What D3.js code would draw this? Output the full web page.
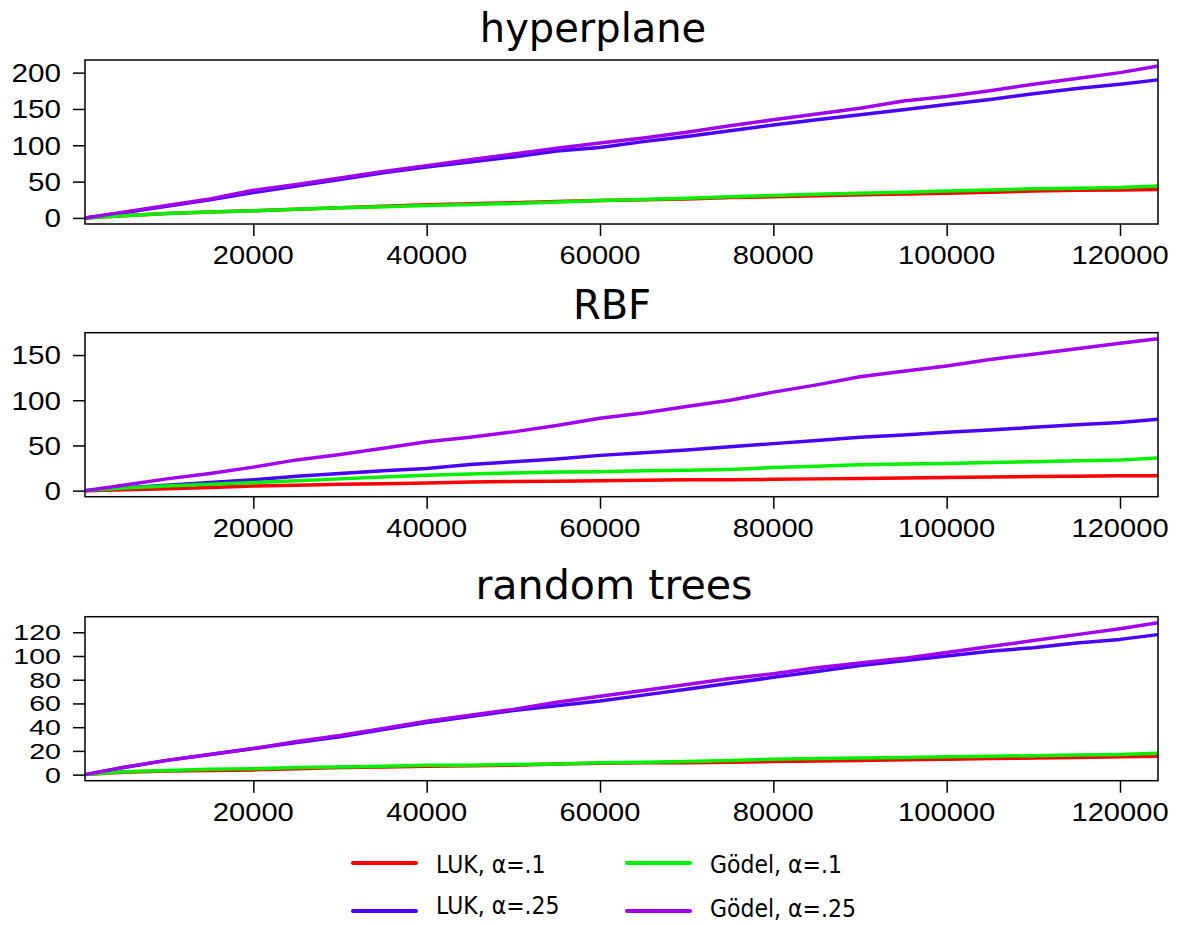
<!DOCTYPE html>
<html>
<head>
<meta charset="utf-8">
<script src="https://cdn.jsdelivr.net/npm/d3@7"></script>
<style>
    body { margin: 0; background: #fff; }
    svg { display: block; }
</style>
</head>
<body>
<div id="plotRegi"></div>
<script>

// Shared x positions (number of instances)
var xs = [577, 5000, 10000, 15000, 20000, 25000, 30000, 35000, 40000, 45000, 50000, 55000, 60000,
          65000, 70000, 75000, 80000, 85000, 90000, 95000, 100000, 105000, 110000, 115000, 120000, 124385]

// hyperplane
var hyper_luk1  = [0, 3, 6, 8, 10, 12, 14, 16, 18, 19.5, 21, 22.5, 24, 25, 26, 28, 29, 30.5, 32, 33, 34, 35.5, 37, 38, 38.5, 39]
var hyper_luk25 = [0, 7, 16, 25, 35, 44, 53, 62, 70, 77, 84, 92, 97, 105, 112, 120, 128, 135, 142, 149, 156, 163, 171, 178, 184, 190]
var hyper_god1  = [0, 3, 6, 8, 10, 12, 14, 15.5, 17, 18.5, 20, 22, 24, 25.5, 27, 29, 31, 32.5, 34, 35.5, 37, 38.5, 40, 41, 42, 44]
var hyper_god25 = [0, 8, 17, 26, 38, 46, 55, 64, 72, 80, 88, 96, 103, 110, 118, 127, 135, 143, 151, 161, 167, 175, 184, 192, 200, 209]

// RBF
var rbf_luk1  = [0, 1, 2, 3.5, 5, 6, 7, 7.5, 8.5, 9.5, 10, 10.5, 11, 11.5, 12, 12, 12.5, 13, 13.5, 14, 14.5, 15, 15.5, 16, 16.5, 16.5]
var rbf_luk25 = [0, 3, 6, 9, 12, 16, 19, 22, 24.5, 29, 32, 35, 39, 42, 45, 48.5, 52, 55.5, 59, 61.5, 64.5, 67, 70, 73, 75.5, 79]
var rbf_god1  = [0, 3, 5, 7, 9, 11, 13, 15, 17, 18.5, 19.5, 20.5, 21, 22, 22.5, 23.5, 25.5, 27, 28.5, 29.5, 30, 31, 32, 33, 34, 36]
var rbf_god25 = [0, 6, 13, 19, 26, 34, 40, 47, 54, 59, 65, 72, 80, 86, 93, 100, 109, 117, 126, 132, 138, 145, 151, 157, 163, 168]

// random trees
var tree_luk1  = [0, 2, 3, 3.5, 4, 5, 6, 6.5, 7, 7.5, 8, 9, 9.5, 10, 10, 10.5, 11, 11.5, 12, 12.5, 13, 13.5, 14, 14.5, 15, 15.5]
var tree_luk25 = [0, 6, 12, 17, 22, 27, 32, 38, 44, 49, 54, 58, 62, 67, 72, 77, 82, 87, 92, 96, 100, 104, 107, 111, 114, 118]
var tree_god1  = [0, 2.5, 3.5, 4.5, 5, 6, 6.5, 7, 8, 8, 8.5, 9, 10, 10.5, 11, 12, 13, 13.5, 14, 14.5, 15, 15.5, 16, 16.5, 17, 18]
var tree_god25 = [0, 6, 12, 17, 22, 28, 33, 39, 45, 50, 55, 61, 66, 71, 76, 81, 85, 90, 94, 98, 103, 108, 113, 118, 123, 128]

// Labels and ticks
var titles = ["hyperplane", "RBF", "random trees"]
var series_names = ["LUK, \u03b1=.1", "LUK, \u03b1=.25", "G\u00f6del, \u03b1=.1", "G\u00f6del, \u03b1=.25"]
var colors = ["#ff0000", "#4a00ff", "#00f000", "#a000f0"]
var x_ticks = [20000, 40000, 60000, 80000, 100000, 120000]
var y_ticks = [[0, 50, 100, 150, 200], [0, 50, 100, 150], [0, 20, 40, 60, 80, 100, 120]]

var panel_data = [
    [hyper_luk1, hyper_luk25, hyper_god1, hyper_god25],
    [rbf_luk1, rbf_luk25, rbf_god1, rbf_god25],
    [tree_luk1, tree_luk25, tree_god1, tree_god25]
]

var W = 1178, H = 925
var left = 85, right = 1158
var panel_top = [60, 332.7, 616.7]
var panel_h = 164
var title_x = [593, 612, 614]
var title_y = [42, 319, 599]
var title_sx = [1.0, 1.0, 1.03]

var svg = d3
    .select("#plotRegi")
    .append("svg")
    .attr("width", W)
    .attr("height", H)

var scale_x = d3
    .scaleLinear()
    .domain([xs[0], xs[xs.length - 1]])
    .range([left, right])

// scaled text helper (reference text is a bit stretched)
function addText(g, x, y, txt, size, family, anchor, sx) {
    return g.append("text")
        .attr("transform", "translate(" + x + "," + y + ") scale(" + sx + ",1)")
        .attr("text-anchor", anchor)
        .style("font-family", family)
        .style("font-size", size + "px")
        .style("fill", "#000")
        .text(txt)
}

panel_data.forEach(function (series, p) {
    var top = panel_top[p], bottom = top + panel_h
    var ymax = d3.max(series, s => d3.max(s))

    // R style 4% padding on y
    var scale_y = d3
        .scaleLinear()
        .domain([-0.04 * ymax, ymax * 1.04])
        .range([bottom, top])

    var g = svg.append("g").attr("id", "panel" + p)

    // Lines
    var line = d3.line()
        .x((d, i) => scale_x(xs[i]))
        .y(d => scale_y(d))

    series.forEach(function (s, k) {
        g.append("path")
            .datum(s)
            .attr("d", line)
            .style("fill", "none")
            .style("stroke", colors[k])
            .style("stroke-width", 3.5)
            .style("stroke-linejoin", "round")
    })

    // Box
    g.append("rect")
        .attr("x", left)
        .attr("y", top)
        .attr("width", right - left)
        .attr("height", panel_h)
        .style("fill", "none")
        .style("stroke", "#000")
        .style("stroke-width", 1.5)

    // Y axis
    var ay = g.append("g")
        .attr("transform", "translate(" + left + ",0)")
        .call(d3.axisLeft(scale_y).tickValues(y_ticks[p]).tickSize(12).tickFormat(""))
    ay.select(".domain").remove()
    ay.selectAll("line").style("stroke-width", 1.5)
    // the crowded random trees axis gets a slightly smaller font
    var fs = p == 2 ? 22 : 26
    var fsx = p == 2 ? 1.3 : 1.14
    y_ticks[p].forEach(function (t) {
        addText(g, 61, scale_y(t) + fs * 0.36, t, fs, "'Liberation Sans', Arial, sans-serif", "end", fsx)
    })

    // X axis
    var ax = g.append("g")
        .attr("transform", "translate(0," + bottom + ")")
        .call(d3.axisBottom(scale_x).tickValues(x_ticks).tickSize(12).tickFormat(""))
    ax.select(".domain").remove()
    ax.selectAll("line").style("stroke-width", 1.5)
    x_ticks.forEach(function (t) {
        addText(g, scale_x(t), bottom + 40, t, 26, "'Liberation Sans', Arial, sans-serif", "middle", 1.12)
    })

    // Title
    addText(g, title_x[p], title_y[p], titles[p], 40, "'DejaVu Sans', sans-serif", "middle", title_sx[p])
})

// Legend
var leg = svg.append("g").attr("id", "legend")
var leg_x = [353, 353, 627, 627]
var leg_y = [863, 911, 863, 911]
var leg_ty = [873, 914, 873, 917]
series_names.forEach(function (name, k) {
    leg.append("line")
        .attr("x1", leg_x[k])
        .attr("x2", leg_x[k] + 63)
        .attr("y1", leg_y[k])
        .attr("y2", leg_y[k])
        .style("stroke", colors[k])
        .style("stroke-width", 4)
        .style("stroke-linecap", "round")
    addText(leg, leg_x[k] + 83, leg_ty[k], name, 25, "'DejaVu Sans', sans-serif", "start", 0.88)
})

</script>
</body>
</html>
